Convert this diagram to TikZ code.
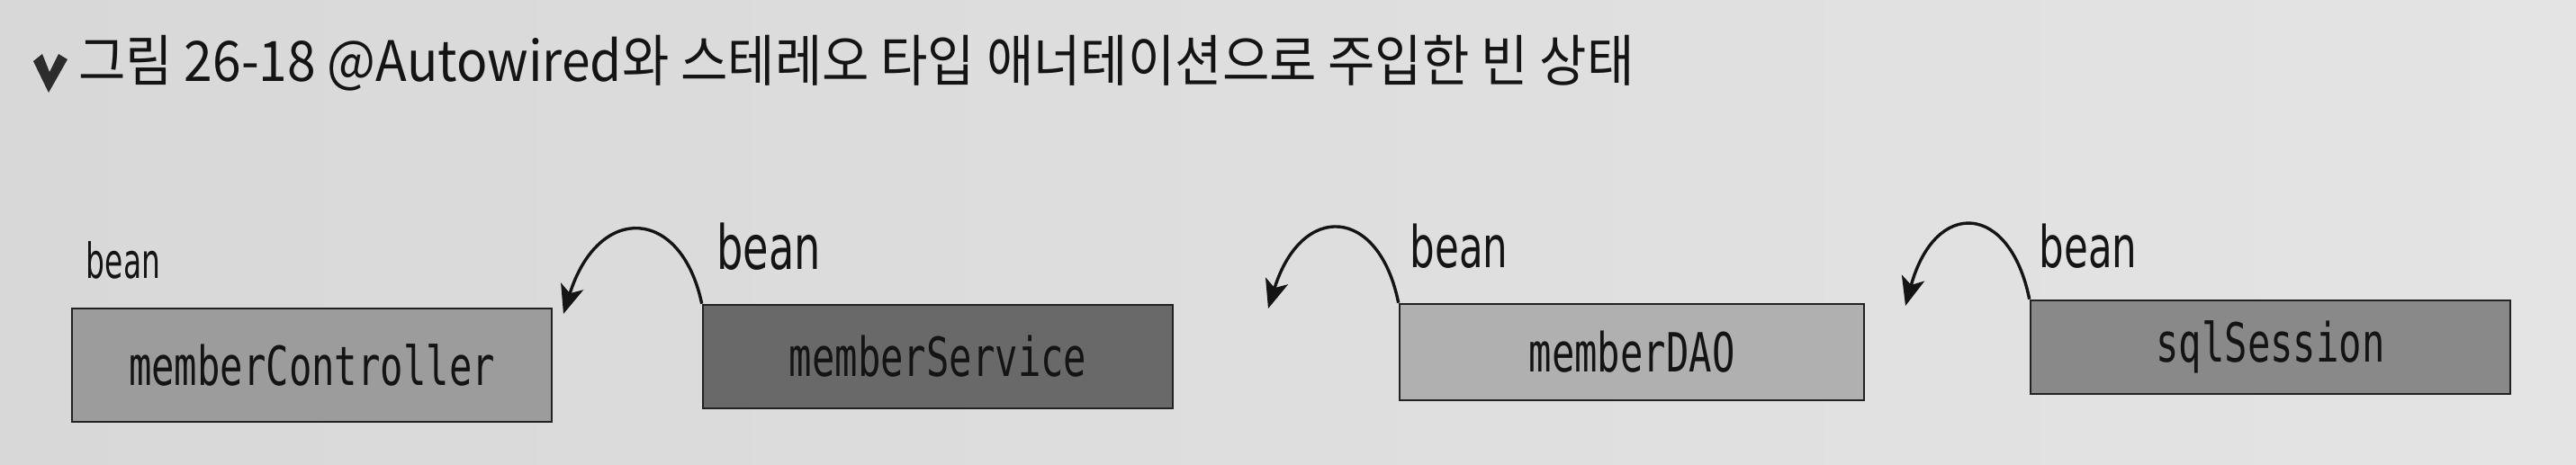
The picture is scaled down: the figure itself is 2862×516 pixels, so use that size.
\documentclass[tikz,border=0pt]{standalone}
\usepackage{fontspec}
\usepackage{graphicx}
\usetikzlibrary{arrows.meta}
\newfontfamily\krfont{Noto Sans CJK KR}
\newfontfamily\bxmono{DejaVu Sans Mono}
\newfontfamily\beanfont{DejaVu Sans}
\definecolor{bgl}{HTML}{D8D8D8}
\definecolor{bgr}{HTML}{E4E4E4}
\definecolor{edgec}{HTML}{222222}
\definecolor{inkc}{HTML}{141414}
\definecolor{fillA}{HTML}{9C9C9C}
\definecolor{fillB}{HTML}{696969}
\definecolor{fillC}{HTML}{B0B0B0}
\definecolor{fillD}{HTML}{898989}
\newcommand{\bxtext}[1]{\scalebox{0.704}[1]{\bxmono\fontsize{30}{30}\selectfont #1}}
\newcommand{\beantext}[3]{\scalebox{#2}[1]{\beanfont\fontsize{#1}{#1}\selectfont #3}}
\begin{document}
\begin{tikzpicture}[x=0.5pt,y=-0.5pt,
  beanbox/.style={draw=edgec, line width=1.3pt, inner sep=0pt, text=inkc},
  beanlbl/.style={inner sep=0pt, text=inkc},
  conn/.style={draw=inkc, line width=1.7pt, -{Stealth[length=16pt,width=13pt,inset=4pt]}}]
\useasboundingbox (0,0) rectangle (2862,516);
\fill[left color=bgl, right color=bgr] (0,0) rectangle (2862,516);
% title
\fill[inkc!90] (37,68) -- (47,60) -- (55,80) -- (65,60) -- (75,66) -- (54,103) -- cycle;
\node[beanlbl, anchor=west] (title) at (87,70) {\resizebox{864pt}{\height}{\krfont\fontsize{31}{31}\selectfont 그림 26-18 @Autowired와 스테레오 타입 애너테이션으로 주입한 빈 상태}};
% boxes
\node[beanbox, fill=fillA, minimum width=266.5pt, minimum height=63pt] (ctrl) at (346.5,406) {\bxtext{memberController}};
\node[beanbox, fill=fillB, minimum width=261pt, minimum height=57.5pt] (svc) at (1042,396.5) {\bxtext{memberService}};
\node[beanbox, fill=fillC, minimum width=258pt, minimum height=53.5pt] (dao) at (1813,391.5) {\bxtext{memberDAO}};
\node[beanbox, fill=fillD, minimum width=266.5pt, minimum height=52pt] (sql) at (2522.5,386) {\bxtext{sqlSession}};
% labels
\node[beanlbl] (b1) at (137,289) {\beantext{27}{0.61}{bean}};
\node[beanlbl] (b2) at (854,274) {\beantext{34}{0.68}{bean}};
\node[beanlbl] (b3) at (1621,274) {\beantext{32}{0.68}{bean}};
\node[beanlbl] (b4) at (2320,274) {\beantext{32}{0.68}{bean}};
% connectors
\coordinate (t1) at (626,349);
\coordinate (t2) at (1409,343);
\coordinate (t3) at (2117,340);
\draw[conn] (svc.north west) .. controls (757,230) and (665,225) .. (t1);
\draw[conn] (dao.north west) .. controls (1532,229) and (1446,224) .. (t2);
\draw[conn] (sql.north west) .. controls (2233,225) and (2150,220) .. (t3);
\end{tikzpicture}
\end{document}
